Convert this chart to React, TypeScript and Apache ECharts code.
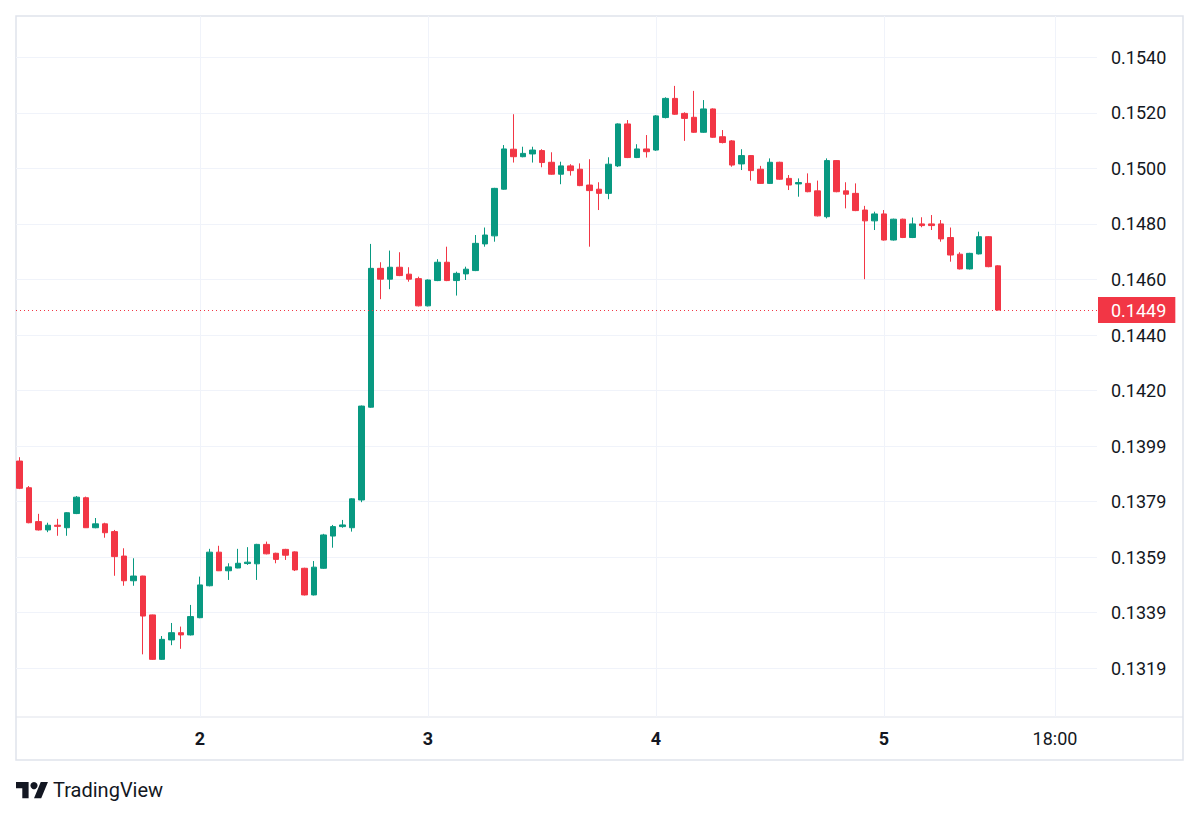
import React, { useEffect, useRef } from 'react';
import * as echarts from 'echarts';

// Hourly candles, first one at day 1 05:00, last one at day 5 12:00
const opens = [
  0.13946, 0.13850, 0.13728, 0.13698, 0.13715, 0.13706, 0.13757, 0.13814, 0.13706, 0.13720,
  0.13692, 0.13604, 0.13515, 0.13532, 0.13392, 0.13232, 0.13302, 0.13328, 0.13320, 0.13382,
  0.13497, 0.13618, 0.13551, 0.13561, 0.13577, 0.13576, 0.13646, 0.13614, 0.13628, 0.13619,
  0.13560, 0.13464, 0.13560, 0.13676, 0.13710, 0.13706, 0.13806, 0.14140, 0.14640, 0.14601,
  0.14644, 0.14619, 0.14603, 0.14505, 0.14596, 0.14662, 0.14596, 0.14620, 0.14632, 0.14728,
  0.14757, 0.14925, 0.15069, 0.15042, 0.15052, 0.15064, 0.15022, 0.14979, 0.15009, 0.14997,
  0.14940, 0.14925, 0.14910, 0.15009, 0.15160, 0.15039, 0.15070, 0.15066, 0.15183, 0.15252,
  0.15198, 0.15184, 0.15130, 0.15214, 0.15114, 0.15099, 0.15016, 0.15046, 0.14997, 0.14946,
  0.15022, 0.14964, 0.14944, 0.14946, 0.14919, 0.14826, 0.15028, 0.14919, 0.14910, 0.14850,
  0.14811, 0.14836, 0.14742, 0.14817, 0.14751, 0.14800, 0.14800, 0.14800, 0.14751, 0.14691,
  0.14638, 0.14692, 0.14754, 0.14649,
];
const closes = [
  0.13848, 0.13724, 0.13698, 0.13715, 0.13711, 0.13760, 0.13816, 0.13706, 0.13720, 0.13688,
  0.13602, 0.13515, 0.13532, 0.13388, 0.13232, 0.13304, 0.13328, 0.13320, 0.13386, 0.13500,
  0.13618, 0.13551, 0.13565, 0.13578, 0.13582, 0.13646, 0.13612, 0.13592, 0.13607, 0.13554,
  0.13464, 0.13564, 0.13680, 0.13710, 0.13716, 0.13810, 0.14144, 0.14640, 0.14601, 0.14644,
  0.14614, 0.14601, 0.14505, 0.14598, 0.14662, 0.14596, 0.14622, 0.14637, 0.14730, 0.14760,
  0.14928, 0.15070, 0.15042, 0.15054, 0.15066, 0.15021, 0.14979, 0.15009, 0.14992, 0.14938,
  0.14920, 0.14910, 0.15015, 0.15160, 0.15039, 0.15070, 0.15060, 0.15189, 0.15252, 0.15195,
  0.15180, 0.15130, 0.15214, 0.15112, 0.15093, 0.15012, 0.15046, 0.14992, 0.14946, 0.15022,
  0.14961, 0.14940, 0.14949, 0.14916, 0.14829, 0.15028, 0.14916, 0.14907, 0.14848, 0.14811,
  0.14836, 0.14742, 0.14817, 0.14751, 0.14800, 0.14794, 0.14794, 0.14746, 0.14688, 0.14638,
  0.14694, 0.14754, 0.14646, 0.14490,
];
const lows = [
  0.13845, 0.13722, 0.13696, 0.13690, 0.13677, 0.13677, 0.13755, 0.13705, 0.13704, 0.13670,
  0.13533, 0.13497, 0.13497, 0.13250, 0.13230, 0.13230, 0.13283, 0.13270, 0.13318, 0.13380,
  0.13495, 0.13550, 0.13518, 0.13560, 0.13572, 0.13518, 0.13610, 0.13578, 0.13590, 0.13550,
  0.13462, 0.13462, 0.13558, 0.13634, 0.13706, 0.13692, 0.13798, 0.14138, 0.14529, 0.14565,
  0.14612, 0.14592, 0.14503, 0.14503, 0.14594, 0.14594, 0.14542, 0.14598, 0.14630, 0.14718,
  0.14736, 0.14923, 0.15021, 0.15040, 0.15021, 0.15004, 0.14977, 0.14943, 0.14974, 0.14936,
  0.14718, 0.14850, 0.14889, 0.15005, 0.15037, 0.15037, 0.15039, 0.15063, 0.15180, 0.15193,
  0.15099, 0.15128, 0.15128, 0.15110, 0.15090, 0.15006, 0.14994, 0.14956, 0.14944, 0.14944,
  0.14959, 0.14922, 0.14898, 0.14914, 0.14827, 0.14820, 0.14914, 0.14856, 0.14846, 0.14601,
  0.14778, 0.14740, 0.14740, 0.14749, 0.14749, 0.14788, 0.14778, 0.14736, 0.14664, 0.14636,
  0.14636, 0.14690, 0.14644, 0.14488,
];
const highs = [
  0.13960, 0.13856, 0.13756, 0.13724, 0.13738, 0.13762, 0.13820, 0.13818, 0.13741, 0.13724,
  0.13698, 0.13632, 0.13596, 0.13533, 0.13393, 0.13316, 0.13363, 0.13350, 0.13428, 0.13530,
  0.13630, 0.13641, 0.13578, 0.13630, 0.13636, 0.13648, 0.13656, 0.13616, 0.13630, 0.13621,
  0.13562, 0.13586, 0.13684, 0.13716, 0.13734, 0.13812, 0.14146, 0.14728, 0.14662, 0.14704,
  0.14698, 0.14644, 0.14610, 0.14600, 0.14673, 0.14718, 0.14628, 0.14646, 0.14760, 0.14787,
  0.14930, 0.15084, 0.15195, 0.15078, 0.15078, 0.15069, 0.15058, 0.15024, 0.15015, 0.15018,
  0.15033, 0.14950, 0.15040, 0.15162, 0.15174, 0.15087, 0.15120, 0.15192, 0.15256, 0.15297,
  0.15202, 0.15279, 0.15246, 0.15216, 0.15138, 0.15102, 0.15069, 0.15048, 0.15009, 0.15036,
  0.15024, 0.14976, 0.14964, 0.14982, 0.14956, 0.15036, 0.15030, 0.14950, 0.14946, 0.14865,
  0.14844, 0.14850, 0.14819, 0.14819, 0.14823, 0.14824, 0.14832, 0.14814, 0.14787, 0.14698,
  0.14696, 0.14772, 0.14756, 0.14651,
];

const yTickValues = [0.132, 0.134, 0.136, 0.138, 0.14, 0.142, 0.144, 0.146, 0.148, 0.15, 0.152, 0.154];
const yTickLabels = ['0.1319', '0.1339', '0.1359', '0.1379', '0.1399', '0.1420', '0.1440', '0.1460', '0.1480', '0.1500', '0.1520', '0.1540'];
const xTickIndex = [19, 43, 67, 91, 109];
const xTickLabels = ['2', '3', '4', '5', '18:00'];
const lastPrice = 0.1449;
const lastPriceLabel = '0.1449';

const UP = '#089981';
const DOWN = '#F23645';
const TEXT = '#131722';
const GRID = '#f0f3fa';
const FONT = 'Roboto, "Noto Sans", sans-serif';

const TV_LOGO = 'M14 22H7V11H0V4h14v18zM28 22h-8l7.5-18h8L28 22z';

function nearest(values: number[], v: number) {
  let best = 0;
  for (let k = 1; k < values.length; k++) {
    if (Math.abs(values[k] - v) < Math.abs(values[best] - v)) best = k;
  }
  return best;
}

export default function App() {
  const ref = useRef<HTMLDivElement>(null);

  useEffect(() => {
    if (!ref.current) return;
    echarts.graphic.registerShape('tvlogo', echarts.graphic.extendPath(TV_LOGO, {}) as any);
    const chart = echarts.init(ref.current, null, { renderer: 'svg' });

    // layout
    const PLOT_LEFT = 16, PLOT_RIGHT = 1097, PLOT_TOP = 16, PLOT_BOTTOM = 717;
    const STEP = 9.5, FIRST_X = 19.5;
    const xMin = -(FIRST_X - PLOT_LEFT) / STEP;
    const xMax = xMin + (PLOT_RIGHT - PLOT_LEFT) / STEP;
    const PX_PER_UNIT = 27770, ANCHOR_V = 0.154, ANCHOR_Y = 57.3;
    const yMax = ANCHOR_V + (ANCHOR_Y - PLOT_TOP) / PX_PER_UNIT;
    const yMin = yMax - (PLOT_BOTTOM - PLOT_TOP) / PX_PER_UNIT;

    const data = opens.map((o, i) => [i, o, closes[i], lows[i], highs[i]]);

    const logoScale = 0.9;
    const logoX = 16, logoY = 778.4;

    chart.setOption({
      animation: false,
      backgroundColor: '#ffffff',
      grid: {
        left: PLOT_LEFT,
        top: PLOT_TOP,
        right: 1200 - PLOT_RIGHT,
        bottom: 817 - PLOT_BOTTOM,
      },
      xAxis: {
        type: 'value',
        min: xMin,
        max: xMax,
        axisLine: { show: false },
        axisTick: { show: false, customValues: xTickIndex },
        axisLabel: {
          customValues: xTickIndex,
          margin: 12,
          color: TEXT,
          fontSize: 18,
          fontFamily: FONT,
          formatter: (v: number) => {
            const k = nearest(xTickIndex, v);
            const s = xTickLabels[k];
            return /^\d+$/.test(s) ? '{b|' + s + '}' : s;
          },
          rich: { b: { fontWeight: 'bold', fontSize: 18, color: TEXT, fontFamily: FONT } },
        },
        splitLine: { show: true, lineStyle: { color: GRID, width: 1 } },
      },
      yAxis: {
        type: 'value',
        position: 'right',
        min: yMin,
        max: yMax,
        axisLine: { show: false },
        axisTick: { show: false, customValues: yTickValues },
        axisLabel: {
          customValues: yTickValues,
          align: 'left',
          margin: 14,
          color: TEXT,
          fontSize: 18,
          fontFamily: FONT,
          formatter: (v: number) => yTickLabels[nearest(yTickValues, v)],
        },
        splitLine: { show: true, lineStyle: { color: GRID, width: 1 } },
      },
      series: [
        {
          type: 'candlestick',
          data,
          barWidth: 6,
          clip: true,
          itemStyle: {
            color: UP,
            color0: DOWN,
            borderColor: UP,
            borderColor0: DOWN,
            borderWidth: 1,
          },
          markLine: {
            silent: true,
            precision: 6,
            symbol: ['none', 'none'],
            animation: false,
            data: [{ yAxis: lastPrice }],
            lineStyle: { color: DOWN, type: [1, 3], width: 1 },
            label: {
              show: true,
              position: 'end',
              distance: 1,
              formatter: lastPriceLabel,
              backgroundColor: DOWN,
              color: '#ffffff',
              fontSize: 18,
              fontFamily: FONT,
              padding: [4, 9, 4, 13],
            },
            emphasis: { disabled: true },
          },
        },
      ],
      graphic: [
        {
          type: 'rect',
          shape: { x: 16, y: 16, width: 1167, height: 744 },
          style: { fill: 'none', stroke: '#e0e3eb', lineWidth: 1.5 },
          silent: true,
        },
        {
          type: 'line',
          shape: { x1: 16, y1: PLOT_BOTTOM, x2: 1183, y2: PLOT_BOTTOM },
          style: { stroke: '#e0e3eb', lineWidth: 1 },
          silent: true,
        },
        {
          type: 'tvlogo',
          x: logoX,
          y: logoY,
          scaleX: logoScale,
          scaleY: logoScale,
          style: { fill: TEXT },
          silent: true,
        },
        {
          type: 'circle',
          shape: { cx: logoX + 20 * logoScale, cy: logoY + 8 * logoScale, r: 4 * logoScale },
          style: { fill: TEXT },
          silent: true,
        },
        {
          type: 'text',
          x: 53,
          y: 790,
          style: {
            text: 'TradingView',
            fill: TEXT,
            font: '20px ' + FONT,
            verticalAlign: 'middle',
            align: 'left',
          },
          silent: true,
        },
      ],
    });

    return () => chart.dispose();
  }, []);

  return (
    <div
      ref={ref}
      style={{ position: 'fixed', left: 0, top: 0, width: 1200, height: 817, background: '#ffffff' }}
    />
  );
}
